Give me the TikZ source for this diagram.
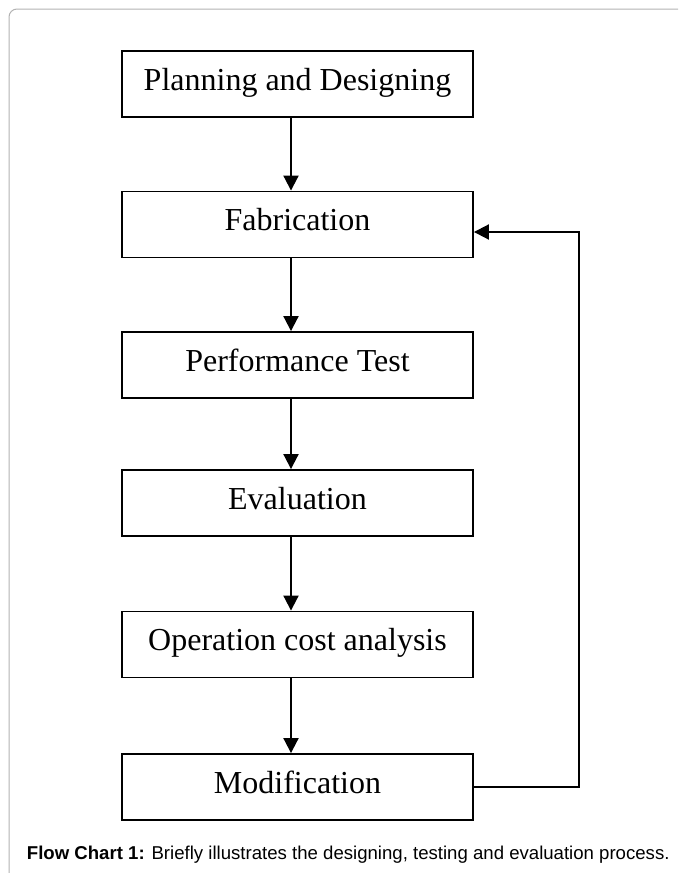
\documentclass[tikz,border=0pt]{standalone}
\usepackage{fontspec}
\setmainfont{Liberation Serif}
\newfontfamily\capfont{Liberation Sans}
\usetikzlibrary{arrows.meta}
\begin{document}
\begin{tikzpicture}[x=1pt,y=-1pt,
  flowbox/.style={draw, line width=1.9pt, minimum width=351pt, minimum height=66pt,
    inner sep=0pt, font=\fontsize{32}{38}\selectfont, text height=20pt, text depth=8pt},
  flowarrow/.style={line width=2pt, -{Triangle[length=15pt,width=15pt]}},
  framestyle/.style={draw=black!30, line width=1pt, rounded corners=8pt}
  ]
\useasboundingbox (0,0) rectangle (678,873);
\draw[framestyle] (9,873) -- (9,9) -- (678,9);

\node[flowbox] (p1) at (297.5,84)  {Planning and Designing};
\node[flowbox] (p2) at (297.5,224.5) {Fabrication};
\node[flowbox] (p3) at (297.5,365) {Performance Test};
\node[flowbox] (p4) at (297.5,503) {Evaluation};
\node[flowbox] (p5) at (297.5,644.5) {Operation cost analysis};
\node[flowbox] (p6) at (297.5,787) {Modification};

\coordinate (ax) at (291,0);
\draw[flowarrow] (p1.south -| ax) -- (p2.north -| ax);
\draw[flowarrow] (p2.south -| ax) -- (p3.north -| ax);
\draw[flowarrow] (p3.south -| ax) -- (p4.north -| ax);
\draw[flowarrow] (p4.south -| ax) -- (p5.north -| ax);
\draw[flowarrow] (p5.south -| ax) -- (p6.north -| ax);

\coordinate (fbtop) at (579,232);
\draw[flowarrow] (p6.east) -| (fbtop) -- (fbtop -| p2.east);

\node[anchor=base west, inner sep=0pt, font=\capfont\fontsize{18.6}{22}\selectfont] (cap) at (26.7,859.3)
  {\textbf{Flow Chart 1:} Briefly illustrates the designing, testing and evaluation process.};
\end{tikzpicture}
\end{document}
